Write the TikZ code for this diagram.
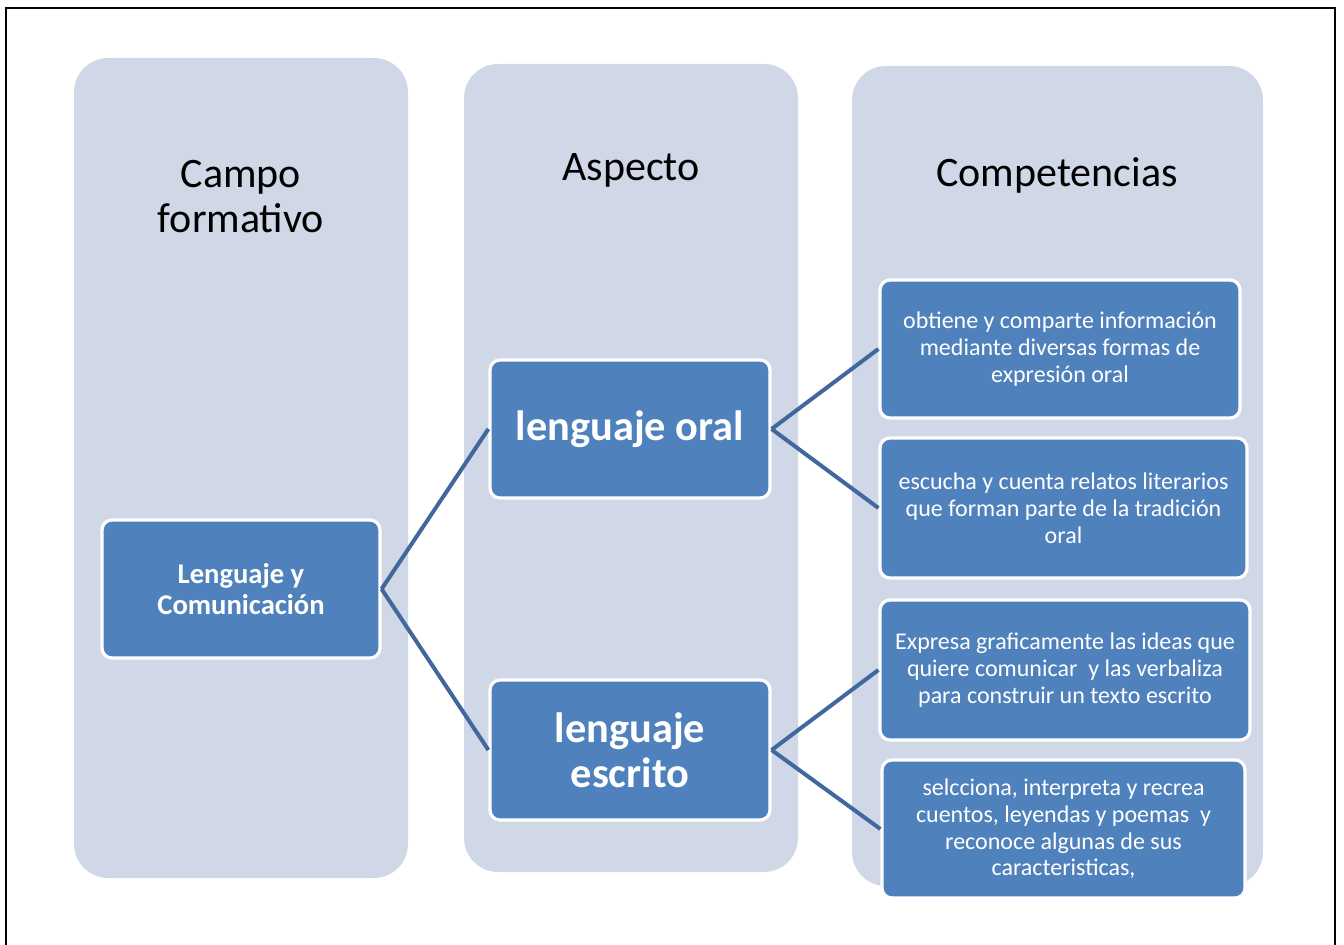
\documentclass[tikz,border=0pt]{standalone}
\usepackage{fontspec}
\setmainfont{Carlito}
\definecolor{colbg}{HTML}{D0D8E8}
\definecolor{boxbl}{HTML}{4F81BD}
\definecolor{linebl}{HTML}{41689C}
\begin{document}
\begin{tikzpicture}[x=0.5pt,y=-0.5pt,
  colbox/.style={fill=colbg, rounded corners=17pt, inner sep=0pt, draw=none},
  title/.style={align=center, font=\fontsize{21}{22.5}\selectfont, text=black, inner sep=0pt},
  bbox/.style={fill=boxbl, draw=white, line width=1.6pt, rounded corners=5pt, align=center, text=white, inner sep=2pt},
  small/.style={bbox, font=\fontsize{12}{13.4}\selectfont},
  lyc/.style={bbox, font=\bfseries\fontsize{14.3}{15.5}\selectfont},
  asp/.style={bbox, font=\bfseries\fontsize{21.2}{22.5}\selectfont},
  conn/.style={draw=linebl, line width=2pt}]
\useasboundingbox (0,0) rectangle (1344,945);
\draw[line width=1pt] (6,8) rectangle (1335,980);
% columns
\node[colbox, minimum width=167pt, minimum height=410pt] (col1) at (241,468) {};
\node[colbox, minimum width=167pt, minimum height=404pt] (col2) at (631,468) {};
\node[colbox, minimum width=205.5pt, minimum height=410pt] (col3) at (1057.5,476) {};
% titles
\node[title] (t1) at (241,197) {Campo\\formativo};
\node[title] (t2) at (631,170) {Aspecto};
\node[title] (t3) at (1057,175) {Competencias};
% boxes
\node[lyc, minimum width=139pt, minimum height=69pt] (lyc) at (241,589) {Lenguaje y\\Comunicación};
\node[asp, minimum width=140pt, minimum height=69pt] (oral) at (630,429) {lenguaje oral};
\node[asp, minimum width=140pt, minimum height=70pt] (esc) at (630,750) {lenguaje\\escrito};
\node[small, minimum width=180pt, minimum height=69pt] (c1) at (1060,349) {obtiene y comparte información\\mediante diversas formas de\\expresión oral};
\node[small, minimum width=183.5pt, minimum height=70pt] (c2) at (1063.5,508) {escucha y cuenta relatos literarios\\que forman parte de la tradición\\oral};
\node[small, minimum width=185pt, minimum height=70pt] (c3) at (1065,670) {Expresa graficamente las ideas que\\quiere comunicar\ \ y las verbaliza\\para construir un texto escrito};
\node[small, minimum width=181.5pt, minimum height=69pt] (c4) at (1063.5,829) {selcciona, interpreta y recrea\\cuentos, leyendas y poemas\ \ y\\reconoce algunas de sus\\caracteristicas,};
% connectors
\draw[conn] (lyc.east) -- (oral.west);
\draw[conn] (lyc.east) -- (esc.west);
\draw[conn] (oral.east) -- (c1.west);
\draw[conn] (oral.east) -- (c2.west);
\draw[conn] (esc.east) -- (c3.west);
\draw[conn] (esc.east) -- (c4.west);
\end{tikzpicture}
\end{document}
